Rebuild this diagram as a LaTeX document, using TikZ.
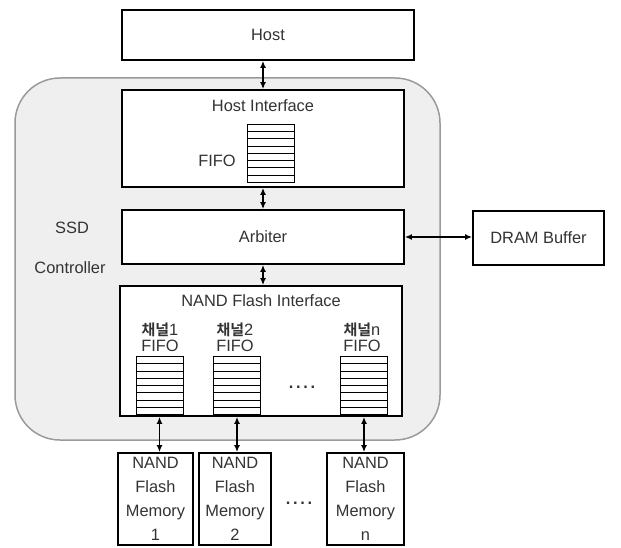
\documentclass[tikz,border=0pt]{standalone}
\usepackage{fontspec}
\setmainfont{Liberation Sans}
\newfontfamily\krfont{Noto Sans CJK KR Bold}
\usetikzlibrary{arrows.meta, positioning, calc}
\definecolor{CPanel}{HTML}{EFEFEF}
\definecolor{CEdge}{HTML}{9A9A9A}
\definecolor{CText}{HTML}{333333}

\tikzset{
  blk/.style={draw, line width=1.8pt, fill=white, inner sep=0pt, text=CText},
  lbl/.style={inner sep=0pt, text=CText},
  chlbl/.style={lbl, anchor=base},
  fifo/.style={draw, line width=1pt, fill=white, inner sep=0pt,
    minimum width=47pt, minimum height=58pt,
    path picture={
      \foreach \k in {1,...,7}
        \draw[line width=1pt]
          ($(path picture bounding box.north west)!\k/8!(path picture bounding box.south west)$) --
          ($(path picture bounding box.north east)!\k/8!(path picture bounding box.south east)$);
    }},
  link/.style={{Latex[length=7pt,width=6pt]}-{Latex[length=7pt,width=6pt]}, line width=1.6pt},
}
\newcommand{\chname}{{\krfont\fontsize{15pt}{18pt}\selectfont 채널}}

\begin{document}
\begin{tikzpicture}[x=1pt, y=-1pt, font=\fontsize{16.4pt}{24pt}\selectfont]
    \useasboundingbox (0,0) rectangle (621,548);

    % Controller panel
    \node[draw=CEdge, fill=CPanel, line width=1.5pt, rounded corners=45pt,
          minimum width=425pt, minimum height=362pt] (ctrl) at (227.5,259) {};
    \node[lbl] (ssd) at (72,228) {SSD};
    \node[lbl] (ctrlname) at (70,268) {Controller};

    % Host
    \node[blk, minimum width=292pt, minimum height=50pt] (host) at (268,35) {Host};

    % Host interface
    \node[blk, minimum width=282pt, minimum height=97pt] (hostif) at (263,138.5) {};
    \node[lbl] (hostiftitle) at (263,106) {Host Interface};
    \node[fifo] (hostfifo) at (270.5,153.5) {};
    \node[lbl] (hostfifolbl) at (217,161) {FIFO};

    % Arbiter and DRAM
    \node[blk, minimum width=282pt, minimum height=54pt] (arb) at (263,237) {Arbiter};
    \node[blk, minimum width=131pt, minimum height=54pt] (dram) at (538.5,238) {DRAM Buffer};

    % NAND flash interface
    \node[blk, minimum width=282pt, minimum height=130pt] (nandif) at (261,351) {};
    \node[lbl] (nandiftitle) at (261,301) {NAND Flash Interface};

    \node[chlbl] (ch1) at (160,335) {\chname1};
    \node[chlbl] (ch1f) at (160,351) {FIFO};
    \node[chlbl] (ch2) at (235,335) {\chname2};
    \node[chlbl] (ch2f) at (235,351) {FIFO};
    \node[chlbl] (chn) at (362,335) {\chname n};
    \node[chlbl] (chnf) at (362,351) {FIFO};

    \node[fifo] (fifo1) at (159.5,385.5) {};
    \node[fifo] (fifo2) at (237,385.5) {};
    \node[fifo] (fifon) at (364,385.5) {};
    \node[lbl] (dotsif) at (302,387) {\textbf{.\,.\,.\,.}};

    % NAND flash memories
    \node[blk, align=center, minimum width=75pt, minimum height=92pt] (mem1) at (155.5,499) {NAND\\Flash\\Memory\\1};
    \node[blk, align=center, minimum width=72pt, minimum height=92pt] (mem2) at (235,499) {NAND\\Flash\\Memory\\2};
    \node[blk, align=center, minimum width=77pt, minimum height=92pt] (memn) at (365.5,499) {NAND\\Flash\\Memory\\n};
    \node[lbl] (dotsmem) at (299,503) {\textbf{.\,.\,.\,.}};

    % Links
    \draw[link] (hostif.north) -- (hostif.north |- host.south);
    \draw[link] (hostif.south) -- (hostif.south |- arb.north);
    \draw[link] (arb.south) -- (arb.south |- nandif.north);
    \draw[link] (arb.east) -- (arb.east -| dram.west);
    \draw[link] (fifo1 |- nandif.south) -- (fifo1 |- mem1.north);
    \draw[link] (fifo2 |- nandif.south) -- (fifo2 |- mem2.north);
    \draw[link] (fifon |- nandif.south) -- (fifon |- memn.north);
\end{tikzpicture}
\end{document}
